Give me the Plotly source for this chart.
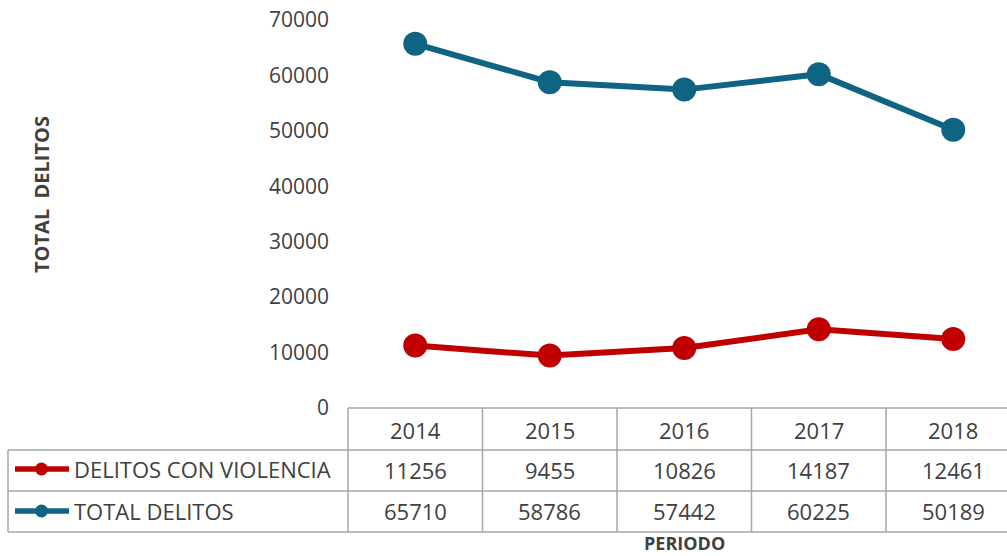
import plotly.graph_objects as go

years = ["2014", "2015", "2016", "2017", "2018"]
violencia = [11256, 9455, 10826, 14187, 12461]
total = [65710, 58786, 57442, 60225, 50189]
series_names = ["DELITOS CON VIOLENCIA", "TOTAL DELITOS"]
y_ticks = [0, 10000, 20000, 30000, 40000, 50000, 60000, 70000]

RED = "#c00000"
BLUE = "#0f6484"
TXT = "#404040"
GRID = "#a6a6a6"
FONT = "Open Sans"

W, H = 1007, 556
# plot area in window pixels
L, R, T, B = 348, 1007, 20, 408


def px(x):
    return (x - L) / (R - L)


def py(y):
    return (B - y) / (B - T)


fig = go.Figure()
for name, vals, col in [(series_names[0], violencia, RED), (series_names[1], total, BLUE)]:
    fig.add_trace(go.Scatter(
        x=list(range(len(years))), y=vals, mode="lines+markers", name=name,
        line=dict(color=col, width=6), marker=dict(color=col, size=24),
        cliponaxis=False, showlegend=False))

shapes = []
annotations = []
line = dict(color=GRID, width=1.5)
col_w = 134.5
row_tops = [408, 450, 491, 532]
xs = [L + i * col_w for i in range(len(years) + 1)]
shapes.append(dict(type="line", xref="paper", yref="paper", x0=px(L), x1=px(1030), y0=py(408), y1=py(408), line=line))
for yy in row_tops[1:]:
    shapes.append(dict(type="line", xref="paper", yref="paper", x0=px(8), x1=px(1030), y0=py(yy), y1=py(yy), line=line))
for xx in xs:
    shapes.append(dict(type="line", xref="paper", yref="paper", x0=px(xx), x1=px(xx), y0=py(408), y1=py(532), line=line))
shapes.append(dict(type="line", xref="paper", yref="paper", x0=px(8), x1=px(8), y0=py(450), y1=py(532), line=line))

cell_font = dict(family=FONT, size=22, color=TXT)
for i, yr in enumerate(years):
    annotations.append(dict(x=i, xref="x", y=py(430), yref="paper", text=yr, showarrow=False,
                            xanchor="center", yanchor="middle", font=cell_font))
    for r, vals in enumerate([violencia, total]):
        annotations.append(dict(x=i, xref="x", y=py(470 + r * 41), yref="paper", text=str(vals[i]),
                                showarrow=False, xanchor="center", yanchor="middle", font=cell_font))

for r, (name, col) in enumerate([(series_names[0], RED), (series_names[1], BLUE)]):
    yy = 469 + r * 42
    shapes.append(dict(type="line", xref="paper", yref="paper", x0=px(15), x1=px(69), y0=py(yy), y1=py(yy),
                       line=dict(color=col, width=5.5)))
    shapes.append(dict(type="circle", xref="paper", yref="paper", x0=px(35), x1=px(48), y0=py(yy - 6.5), y1=py(yy + 6.5),
                       fillcolor=col, line=dict(color=col, width=0)))
    annotations.append(dict(x=px(72), xref="paper", y=py(yy), yref="paper", text=name, showarrow=False,
                            xanchor="left", yanchor="middle", font=cell_font))

annotations.append(dict(x=px(42), xref="paper", y=py(195), yref="paper", text="TOTAL  DELITOS", textangle=-90,
                        showarrow=False, xanchor="center", yanchor="middle",
                        font=dict(family=FONT, size=20, color=TXT, weight="bold")))
annotations.append(dict(x=2, xref="x", y=py(543), yref="paper", text="PERIODO", showarrow=False,
                        xanchor="center", yanchor="middle",
                        font=dict(family=FONT, size=18, color=TXT, weight="bold")))

fig.update_layout(
    width=W, height=H,
    margin=dict(l=L, r=W - R, t=T, b=H - B, pad=0, autoexpand=False),
    paper_bgcolor="white", plot_bgcolor="white",
    xaxis=dict(range=[-0.5, (R - L) / col_w - 0.5], showticklabels=False, showgrid=False,
               zeroline=False, showline=False, fixedrange=True, automargin=False),
    yaxis=dict(range=[0, 70000], tickvals=y_ticks, ticktext=[str(v) for v in y_ticks],
               showgrid=False, zeroline=False, showline=False, ticks="", automargin=False,
               ticklabeloverflow="allow",
               ticklabelstandoff=18, tickfont=dict(family=FONT, size=21, color=TXT)),
    shapes=shapes, annotations=annotations,
)

fig.write_html("out.html", config={"displayModeBar": False},
               post_script="document.body.style.margin='0';document.body.style.overflow='hidden';")
